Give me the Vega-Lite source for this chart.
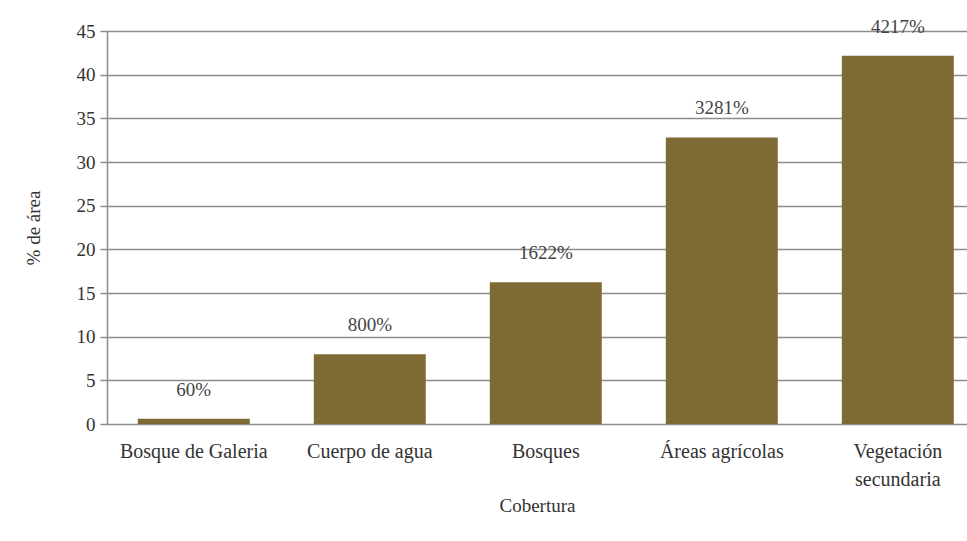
{
  "$schema": "https://vega.github.io/schema/vega-lite/v6.json",
  "autosize": {"type": "none"},
  "padding": {"left": 107, "top": 31, "right": 0, "bottom": 117},
  "width": 860,
  "height": 393,
  "background": "white",
  "data": {
    "values": [
      {"cobertura": "Bosque de Galeria", "area": 0.6, "etiqueta": "60%"},
      {"cobertura": "Cuerpo de agua", "area": 8.0, "etiqueta": "800%"},
      {"cobertura": "Bosques", "area": 16.22, "etiqueta": "1622%"},
      {"cobertura": "Áreas agrícolas", "area": 32.81, "etiqueta": "3281%"},
      {"cobertura": "Vegetación secundaria", "area": 42.17, "etiqueta": "4217%"}
    ]
  },
  "config": {
    "view": {"stroke": null},
    "font": "Liberation Serif",
    "axis": {
      "labelFont": "Liberation Serif",
      "titleFont": "Liberation Serif",
      "labelColor": "#333333",
      "titleColor": "#333333",
      "labelFontSize": 19,
      "titleFontSize": 19,
      "titleFontWeight": "normal"
    }
  },
  "encoding": {
    "x": {
      "field": "cobertura",
      "type": "nominal",
      "sort": null,
      "title": "Cobertura",
      "scale": {"paddingInner": 0.364, "paddingOuter": 0.125, "align": 0.7},
      "axis": {
        "labelAngle": 0,
        "ticks": false,
        "domain": false,
        "labelFontSize": 20,
        "labelPadding": 17,
        "titlePadding": 7,
        "labelLineHeight": 28,
        "labelExpr": "datum.label == 'Vegetación secundaria' ? ['Vegetación', 'secundaria'] : datum.label"
      }
    },
    "y": {
      "field": "area",
      "type": "quantitative",
      "title": "% de área",
      "scale": {"domain": [0, 45], "nice": false},
      "axis": {
        "values": [0, 5, 10, 15, 20, 25, 30, 35, 40, 45],
        "grid": true,
        "gridColor": "#8c8c8c",
        "gridWidth": 1.5,
        "domainColor": "#8c8c8c",
        "domainWidth": 1.5,
        "tickColor": "#8c8c8c",
        "tickWidth": 1.5,
        "tickSize": 7,
        "labelPadding": 5,
        "titlePadding": 33
      }
    }
  },
  "layer": [
    {"mark": {"type": "bar", "color": "#7d6a34"}},
    {
      "mark": {"type": "text", "baseline": "middle", "dy": -29, "fontSize": 19, "color": "#444444", "font": "Liberation Serif"},
      "encoding": {"text": {"field": "etiqueta"}}
    }
  ]
}
